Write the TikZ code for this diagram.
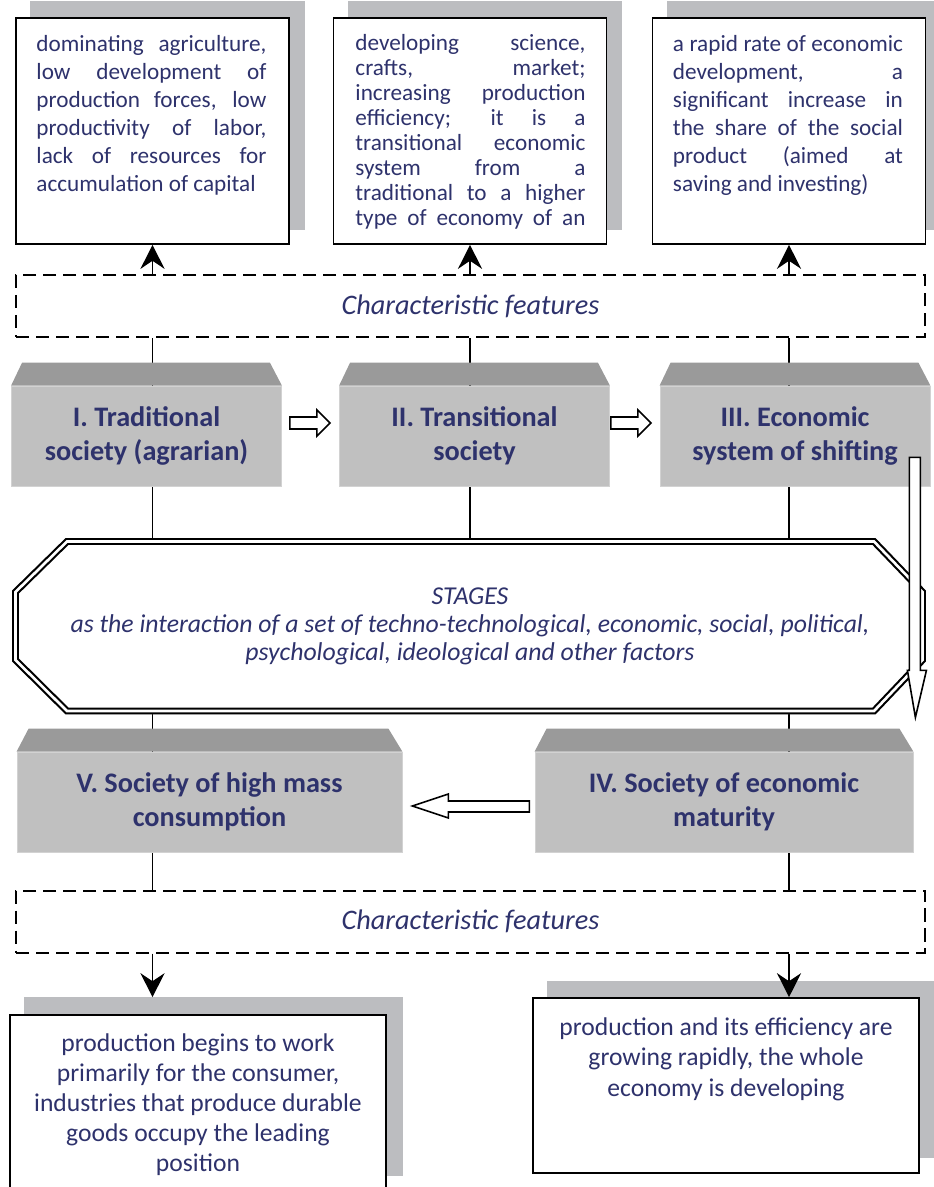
\documentclass[tikz,border=0pt]{standalone}
\usepackage{fontspec}
\setmainfont{Carlito}
\usetikzlibrary{arrows.meta,calc,backgrounds}
\definecolor{navy}{RGB}{46,50,108}
\definecolor{shgray}{RGB}{188,189,192}
\definecolor{frontgray}{RGB}{192,192,192}
\definecolor{topgray}{RGB}{154,154,154}
\newcommand\jl[1]{\makebox[172.5pt][s]{#1}\\}
\newcommand\jlast[1]{\makebox[172.5pt][s]{#1}}
\newcommand\lastl[1]{\makebox[172.5pt][l]{#1}}
\hyphenpenalty=10000
\tikzset{
 featbox/.style={draw=black, line width=1.2pt, fill=white, inner sep=0pt},
 textblk/.style={inner sep=0pt, text=navy, align=left, font=\fontsize{17.4}{21}\selectfont},
 centblk/.style={inner sep=0pt, text=navy, align=center, font=\fontsize{19.2}{22.5}\selectfont},
 stagefront/.style={fill=frontgray, draw=gray!35, line width=0.6pt, text=navy, align=center, inner sep=0pt, minimum height=75pt, font=\fontsize{21.2}{25.5}\selectfont\bfseries},
 dashbox/.style={draw=black, line width=1.5pt, dash pattern=on 10pt off 5pt, text=navy, minimum width=681.75pt, minimum height=46.5pt, inner sep=0pt, font=\fontsize{21.2}{25}\selectfont\itshape},
 conn/.style={draw=black, line width=1.4pt},
 arr/.style={conn, -{Stealth[length=18pt,width=18pt,inset=6pt]}},
 hollow/.style={draw=black, line width=1.2pt, fill=white, line join=miter},
 topface/.style={fill=topgray},
 shadowfill/.style={fill=shgray},
}
\begin{document}
\begin{tikzpicture}[x=0.75pt,y=-0.75pt]
\clip (0,0) rectangle (933,1187);

% top feature boxes
\node[featbox, minimum width=204.75pt, minimum height=169.5pt] (t1) at (152.5,131) {};
\node[featbox, minimum width=204.75pt, minimum height=169.5pt] (t2) at (470,131) {};
\node[featbox, minimum width=204.75pt, minimum height=169.5pt] (t3) at (789,131) {};

\node[textblk, anchor=north west] (t1txt) at ($(t1.north west)+(21,18)$)
 {\jl{dominating agriculture,}\jl{low development of}\jl{production forces, low}\jl{productivity of labor,}\jl{lack of resources for}\lastl{accumulation of capital}};
\node[textblk, anchor=north west, font=\fontsize{17.4}{18.75}\selectfont] (t2txt) at ($(t2.north west)+(22.5,17)$)
 {\jl{developing science,}\jl{crafts, market;}\jl{increasing production}\jl{efficiency; it is a}\jl{transitional economic}\jl{system from a}\jl{traditional to a higher}\jlast{type of economy of an}};
\node[textblk, anchor=north west] (t3txt) at ($(t3.north west)+(21,18)$)
 {\jl{a rapid rate of economic}\jl{development, a}\jl{significant increase in}\jl{the share of the social}\jl{product (aimed at}\lastl{saving and investing)}};

% dashed boxes
\node[dashbox] (d1) at (470.5,306) {Characteristic features};
\node[dashbox] (d2) at (470.5,921.5) {Characteristic features};

% stage boxes row 1
\node[stagefront, minimum width=202.5pt] (s1) at (146.5,436) {I. Traditional\\society (agrarian)};
\node[stagefront, minimum width=202.5pt] (s2) at (474.5,436) {II. Transitional\\society};
\node[stagefront, minimum width=202.5pt] (s3) at (795,436) {III. Economic\\system of shifting};
\foreach \s in {s1,s2,s3}{
 \fill[topface] (\s.north west) -- ($(\s.north west)+(11,-23)$) -- ($(\s.north east)+(-12,-23)$) -- (\s.north east) -- cycle;
}

% stage boxes row 2
\node[stagefront, minimum width=288.75pt] (s5) at (209.5,802) {V. Society of high mass\\consumption};
\node[stagefront, minimum width=283.5pt] (s4) at (724,802) {IV. Society of economic\\maturity};
\foreach \s in {s4,s5}{
 \fill[topface] (\s.north west) -- ($(\s.north west)+(12,-23)$) -- ($(\s.north east)+(-14,-23)$) -- (\s.north east) -- cycle;
}

% central octagon
\coordinate (oc1) at (67,541.5);
\coordinate (oc2) at (874,541.5);
\coordinate (oc3) at (922.5,592);
\coordinate (oc4) at (922.5,660);
\coordinate (oc5) at (874,711);
\coordinate (oc6) at (67,711);
\coordinate (oc7) at (15.5,660);
\coordinate (oc8) at (15.5,592);
\draw[draw=gray!45, double=gray!15, line width=1.3pt, double distance=2pt, shift={(-5,-6)}]
 (oc1) -- (oc2) -- (oc3) -- (oc4) -- (oc5) -- (oc6) -- (oc7) -- (oc8) -- cycle;
\draw[draw=black, line width=1.6pt, double=white, double distance=2pt, fill=white]
 (oc1) -- (oc2) -- (oc3) -- (oc4) -- (oc5) -- (oc6) -- (oc7) -- (oc8) -- cycle;
\node[inner sep=0pt, text=navy, align=center, font=\fontsize{19.3}{21}\selectfont\itshape] (oct) at (470,626)
 {STAGES\\as the interaction of a set of techno-technological, economic, social, political,\\psychological, ideological and other factors};

% bottom feature boxes
\node[featbox, minimum width=282pt, minimum height=132.75pt] (b1) at (198,1103.5) {};
\node[featbox, minimum width=289.5pt, minimum height=131.25pt] (b2) at (726,1085.5) {};
\node[centblk, anchor=north] (b1txt) at ($(b1.north)+(0,19)$)
 {production begins to work\\primarily for the consumer,\\industries that produce durable\\goods occupy the leading\\position};
\node[centblk, anchor=north, font=\fontsize{19.2}{23}\selectfont] (b2txt) at ($(b2.north)+(0,20)$)
 {production and its efficiency are\\growing rapidly, the whole\\economy is developing};

% hollow arrows between stages
\draw[hollow] ($(s1.east)+(8,-19)$) -- ++(27,0) -- ++(0,-7) -- ++(13,13) -- ++(-13,13) -- ++(0,-7) -- ++(-27,0) -- cycle;
\draw[hollow] ($(s2.east)+(1,-19)$) -- ++(27,0) -- ++(0,-7) -- ++(13,13) -- ++(-13,13) -- ++(0,-7) -- ++(-27,0) -- cycle;
\draw[hollow] ($(s5.east)+(10,4)$) -- ++(36,-12) -- ++(0,7) -- ++(81,0) -- ++(0,11) -- ++(-81,0) -- ++(0,6) -- cycle;
\draw[hollow] ($(s3.south east)+(-21,-29)$) -- ++(11,0) -- ++(0,213) -- ++(6,0) -- ++(-11,47) -- ++(-8,-47) -- ++(2,0) -- cycle;

\begin{scope}[on background layer]
 \fill[white] (0,0) rectangle (933,1187);
 \foreach \b in {t1,t2,t3}{
  \fill[shadowfill] ($(\b.south west)+(15,-15)$) rectangle ($(\b.north east)+(15,-16)$);
 }
 \fill[shadowfill] ($(b1.south west)+(15,-17)$) rectangle ($(b1.north east)+(16,-17)$);
 \fill[shadowfill] ($(b2.south west)+(15,-16)$) rectangle ($(b2.north east)+(15,-16)$);
 % connectors
 \draw[arr] (d1.north -| t1.south) -- (t1.south);
 \draw[arr] (d1.north -| t2.south) -- (t2.south);
 \draw[arr] (d1.north -| t3.south) -- (t3.south);
 \draw[conn] (d1.south -| t1.south) -- (s1.north -| t1.south);
 \draw[conn] (d1.south -| t2.south) -- (s2.north -| t2.south);
 \draw[conn] (d1.south -| t3.south) -- (s3.north -| t3.south);
 \draw[conn] (s1.south -| t1.south) -- (oc1 -| t1.south);
 \draw[conn] (s2.south -| t2.south) -- (oc1 -| t2.south);
 \draw[conn] (s3.south -| t3.south) -- (oc1 -| t3.south);
 \draw[conn] (oc6 -| t1.south) -- (s5.north -| t1.south);
 \draw[conn] (oc6 -| t3.south) -- (s4.north -| t3.south);
 \draw[conn] (s5.south -| t1.south) -- (d2.north -| t1.south);
 \draw[conn] (s4.south -| t3.south) -- (d2.north -| t3.south);
 \draw[arr] (d2.south -| t1.south) -- ($(b1.north -| t1.south)+(0,-17)$);
 \draw[arr] (d2.south -| t3.south) -- (b2.north -| t3.south);
\end{scope}
\end{tikzpicture}
\end{document}
